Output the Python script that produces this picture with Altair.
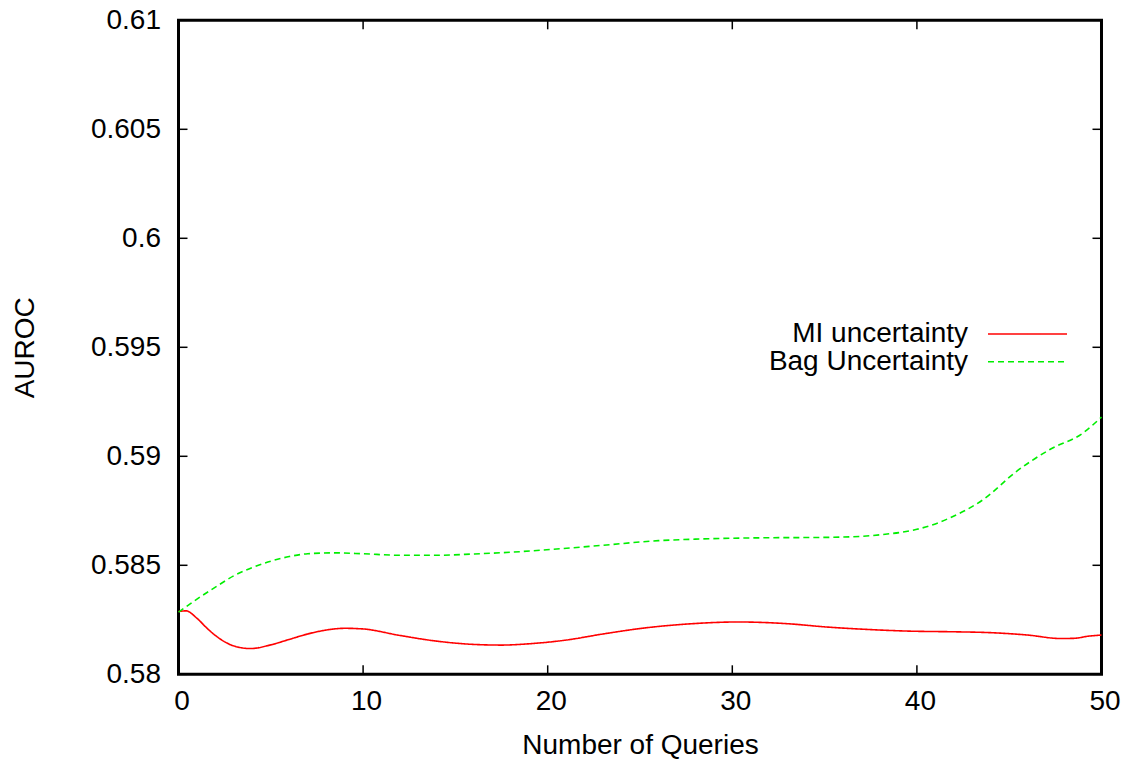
import altair as alt
import pandas as pd

# ---- data ----
series_names = ["MI uncertainty", "Bag Uncertainty"]

mi_x = [0, 0.4, 1, 1.5, 2, 3, 3.9, 5, 6, 7, 8, 9, 10, 12, 14, 16, 17.5, 19, 21, 23,
        25.2, 28, 30.3, 33, 35.1, 37.5, 39.6, 42, 44, 46, 47.8, 48.5, 49.3, 50]
mi_y = [0.58288, 0.58291, 0.58257, 0.58215, 0.58178, 0.58130, 0.58118, 0.58135,
        0.58160, 0.58185, 0.58203, 0.58211, 0.58208, 0.58178, 0.58152, 0.58137,
        0.58134, 0.58140, 0.58157, 0.58185, 0.58212, 0.58233, 0.58240, 0.58232,
        0.58217, 0.58205, 0.58198, 0.58195, 0.58191, 0.58180, 0.58164, 0.58165,
        0.58175, 0.58180]

bag_x = [0, 1, 2, 3, 4, 5, 6, 7, 8.5, 10, 12, 14, 16, 18, 20.7, 23, 26, 28,
         31.5, 35, 37, 38, 40, 41, 41.8, 43.6, 45.4, 47.2, 49, 50]
bag_y = [0.58285, 0.58345, 0.58400, 0.58452, 0.58490, 0.58519, 0.58540, 0.58553,
         0.58557, 0.58553, 0.58546, 0.58546, 0.58552, 0.58560, 0.58576, 0.58592,
         0.58613, 0.58620, 0.58626, 0.58628, 0.58633, 0.58640, 0.58665, 0.58690,
         0.58718, 0.58802, 0.58931, 0.59031, 0.59107, 0.59180]

x_ticks = [0, 10, 20, 30, 40, 50]
y_ticks = [0.58, 0.585, 0.59, 0.595, 0.6, 0.605, 0.61]

colors = ["#ff0000", "#00ee00"]
dashes = [[1, 0], [6, 4]]

df = pd.concat([
    pd.DataFrame({"x": mi_x, "y": mi_y, "series": series_names[0]}),
    pd.DataFrame({"x": bag_x, "y": bag_y, "series": series_names[1]}),
])

W, H = 923, 654
FONT = "Liberation Sans"
FS = 28

xs = alt.Scale(domain=[0, 50], nice=False, zero=False)
ys = alt.Scale(domain=[0.58, 0.61], nice=False, zero=False)

lines = alt.Chart(df).mark_line(interpolate="monotone", strokeWidth=1.6).encode(
    x=alt.X("x:Q", scale=xs, axis=alt.Axis(
        values=x_ticks, title="Number of Queries", ticks=False, domain=False,
        grid=False, labelPadding=13, labelOffset=3, labelFlush=False,
        titleY=79, titleBaseline="alphabetic")),
    y=alt.Y("y:Q", scale=ys, axis=alt.Axis(
        values=y_ticks, format="~g", title="AUROC", ticks=False, domain=False,
        grid=False, labelPadding=18, labelFlush=False, titleX=-145.5, titleY=H / 2,
        titleBaseline="alphabetic", titleAngle=270, titleAlign="center")),
    color=alt.Color("series:N", scale=alt.Scale(domain=series_names, range=colors), legend=None),
    strokeDash=alt.StrokeDash("series:N", scale=alt.Scale(domain=series_names, range=dashes), legend=None),
)

xt = pd.DataFrame({"t": x_ticks})
yt = pd.DataFrame({"t": y_ticks})
TL = 9
tick_kw = dict(color="black", strokeWidth=1.5)
bottom_ticks = alt.Chart(xt).mark_rule(**tick_kw).encode(
    x=alt.X("t:Q", scale=xs), y=alt.value(H), y2=alt.value(H - TL))
top_ticks = alt.Chart(xt).mark_rule(**tick_kw).encode(
    x=alt.X("t:Q", scale=xs), y=alt.value(0), y2=alt.value(TL))
left_ticks = alt.Chart(yt).mark_rule(**tick_kw).encode(
    y=alt.Y("t:Q", scale=ys), x=alt.value(0), x2=alt.value(TL))
right_ticks = alt.Chart(yt).mark_rule(**tick_kw).encode(
    y=alt.Y("t:Q", scale=ys), x=alt.value(W), x2=alt.value(W - TL))

# manual legend (gnuplot style: label on the left, line sample on the right)
leg_layers = []
leg_y = [313.7, 341.4]
for i, name in enumerate(series_names):
    ldf = pd.DataFrame({"series": [name]})
    leg_layers.append(alt.Chart(ldf).mark_text(
        align="right", baseline="middle", font=FONT, fontSize=FS, color="black").encode(
        text="series:N", x=alt.value(789.5), y=alt.value(leg_y[i])))
    leg_layers.append(alt.Chart(ldf).mark_rule(
        color=colors[i], strokeWidth=1.6, strokeDash=dashes[i]).encode(
        x=alt.value(809.5), x2=alt.value(888.5), y=alt.value(leg_y[i])))

chart = alt.layer(
    lines, bottom_ticks, top_ticks, left_ticks, right_ticks, *leg_layers
).properties(
    width=W, height=H,
    autosize=alt.AutoSizeParams(type="none"),
    padding={"left": 170.5, "top": 12.3, "right": 20, "bottom": 90},
    background="white",
).configure_view(
    stroke="black", strokeWidth=3
).configure_axis(
    labelFont=FONT, labelFontSize=FS, labelColor="black",
    titleFont=FONT, titleFontSize=FS, titleColor="black", titleFontWeight="normal",
)

chart.save("out.html", embed_options={"renderer": "svg", "actions": False})
